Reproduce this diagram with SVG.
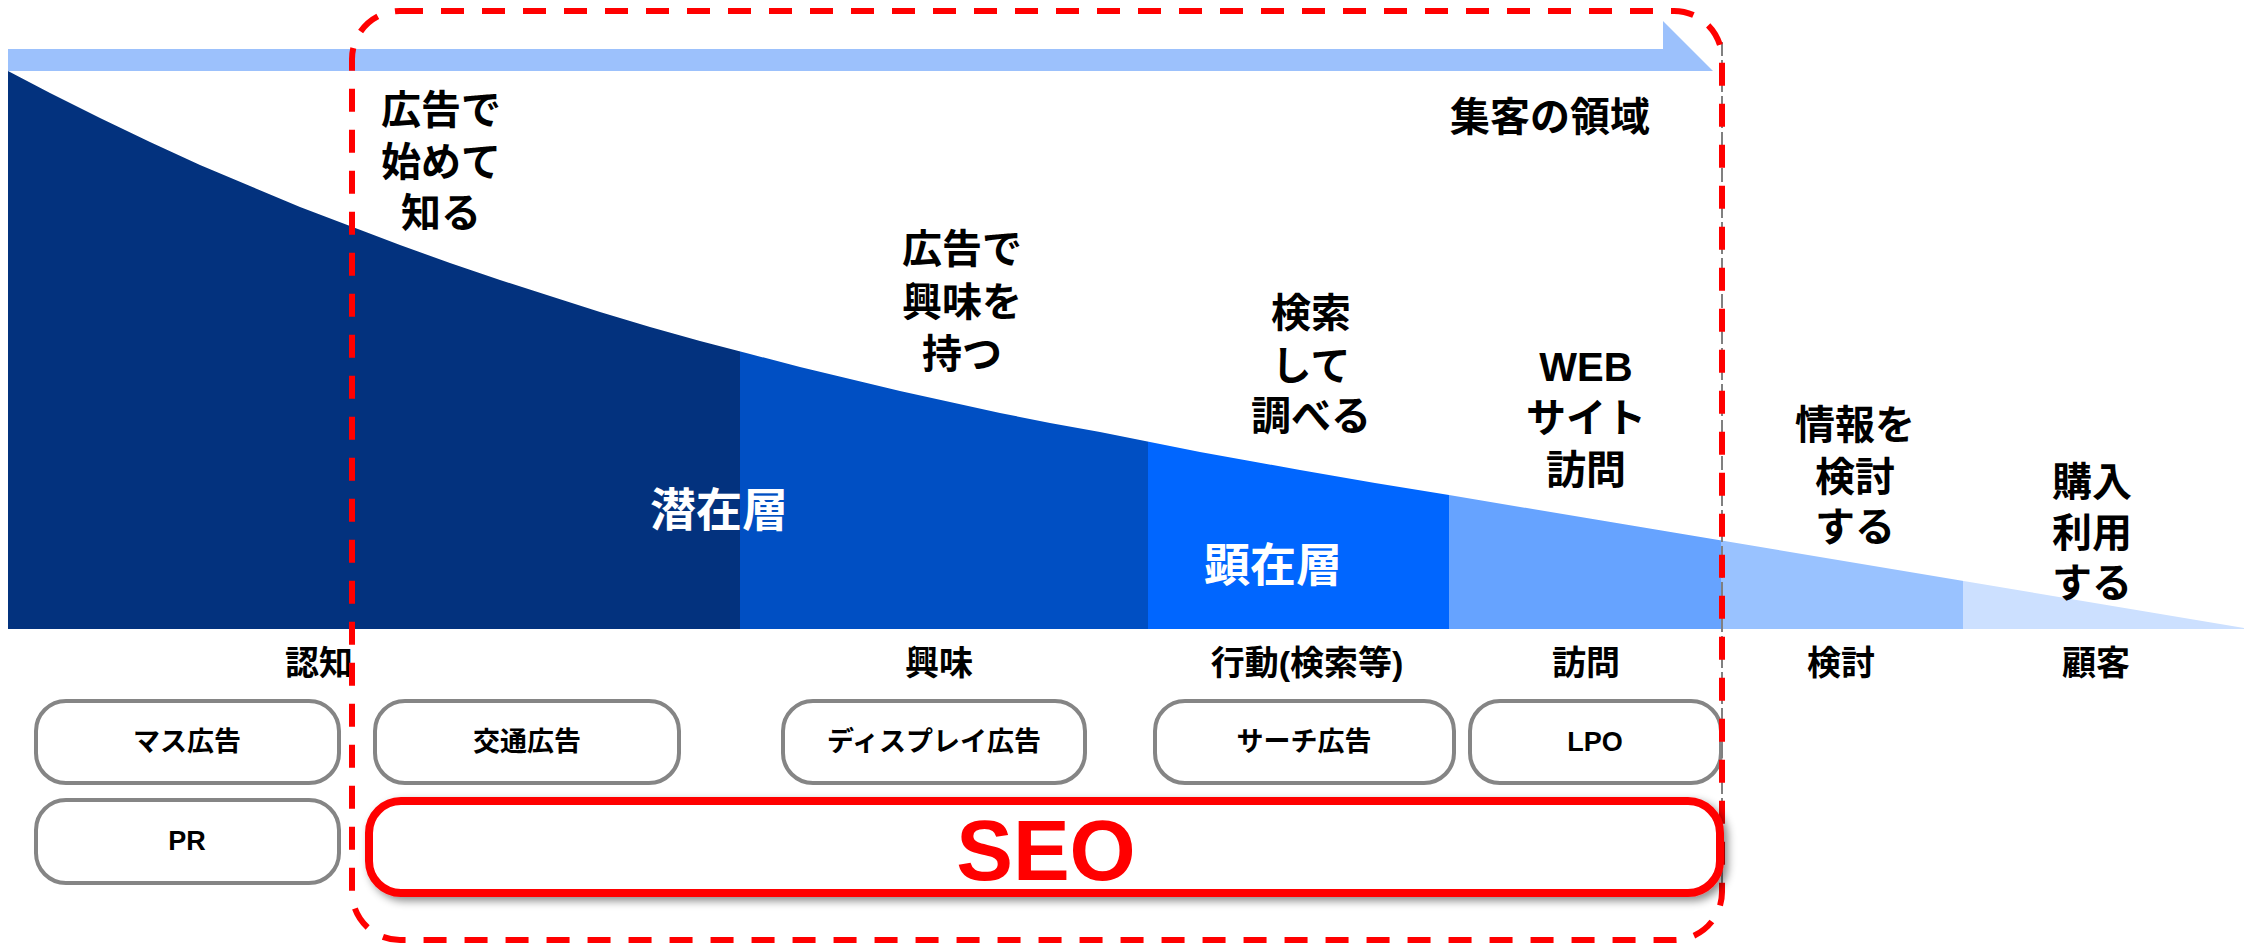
<svg xmlns="http://www.w3.org/2000/svg" width="2259" height="945" viewBox="0 0 2259 945">
<defs>
<style>
.t{font-family:"Liberation Sans","Noto Sans CJK JP",sans-serif;font-weight:bold;fill:#000;text-anchor:middle;dominant-baseline:central}
.big{font-size:40px}
.lab{font-size:34px}
.box text{font-size:27px}
.w{fill:#fff;font-size:46px}
.box rect{fill:#fff;stroke:#858585;stroke-width:4}
</style>
<clipPath id="funnel">
<polygon points="8,629 8,71 50,93 100,118 150,142 200,165 250,186 300,207 350,226 400,245 450,263 500,280 550,296 600,312 650,327 700,341 750,354 800,367 850,379 900,391 950,402 1000,413 1050,423 1100,432 1150,442 1200,452 1250,461 1300,470 1375,483 1449,495 2244,628 2244,629"/>
</clipPath>
<filter id="sh" x="-5%" y="-30%" width="110%" height="160%">
<feDropShadow dx="4" dy="4" stdDeviation="4" flood-color="#000" flood-opacity="0.45"/>
</filter>
</defs>
<rect width="2259" height="945" fill="#fff"/>
<g id="funnel-shape" clip-path="url(#funnel)">
<rect x="8" y="60" width="732" height="570" fill="#03327e"/>
<rect x="740" y="60" width="408" height="570" fill="#004fc3"/>
<rect x="1148" y="60" width="301" height="570" fill="#0066ff"/>
<rect x="1449" y="60" width="272" height="570" fill="#66a3ff"/>
<rect x="1721" y="60" width="242" height="570" fill="#99c2ff"/>
<rect x="1963" y="60" width="290" height="570" fill="#cce0ff"/>
</g>
<g id="arrow">
<polygon points="8,49 1663,49 1663,21 1713,71 8,71" fill="#9cc1fc"/>
</g>
<g id="layer-labels">
<text class="t w" x="719" y="510">潜在層</text>
<text class="t w" x="1273" y="565">顕在層</text>
</g>
<g id="stage-texts">
<text class="t big" x="1550" y="117">集客の領域</text>
<text class="t big" x="441" y="110">広告で</text>
<text class="t big" x="441" y="162">始めて</text>
<text class="t big" x="441" y="213">知る</text>
<text class="t big" x="962" y="249">広告で</text>
<text class="t big" x="962" y="302">興味を</text>
<text class="t big" x="962" y="354">持つ</text>
<text class="t big" x="1311" y="313">検索</text>
<text class="t big" x="1311" y="366">して</text>
<text class="t big" x="1311" y="416">調べる</text>
<text class="t big" x="1586" y="367">WEB</text>
<text class="t big" x="1586" y="418">サイト</text>
<text class="t big" x="1586" y="470">訪問</text>
<text class="t big" x="1855" y="425">情報を</text>
<text class="t big" x="1855" y="477">検討</text>
<text class="t big" x="1855" y="527">する</text>
<text class="t big" x="2092" y="482">購入</text>
<text class="t big" x="2092" y="533">利用</text>
<text class="t big" x="2092" y="583">する</text>
</g>
<g id="phase-labels">
<text class="t lab" x="319" y="663">認知</text>
<text class="t lab" x="939" y="663">興味</text>
<text class="t lab" x="1307" y="663">行動(検索等)</text>
<text class="t lab" x="1586" y="663">訪問</text>
<text class="t lab" x="1841" y="663">検討</text>
<text class="t lab" x="2096" y="663">顧客</text>
</g>
<g id="box-mass" class="box"><rect x="36" y="701" width="303" height="82" rx="30"/><text class="t" x="187" y="742">マス広告</text></g>
<g id="box-pr" class="box"><rect x="36" y="800" width="303" height="83" rx="30"/><text class="t" x="187" y="841">PR</text></g>
<g id="box-transit" class="box"><rect x="375" y="701" width="304" height="82" rx="30"/><text class="t" x="527" y="742">交通広告</text></g>
<g id="box-display" class="box"><rect x="783" y="701" width="302" height="82" rx="30"/><text class="t" x="934" y="742">ディスプレイ広告</text></g>
<g id="box-search" class="box"><rect x="1155" y="701" width="299" height="82" rx="30"/><text class="t" x="1304" y="742">サーチ広告</text></g>
<g id="box-lpo" class="box"><rect x="1470" y="701" width="251" height="82" rx="30"/><text class="t" x="1595" y="742">LPO</text></g>
<g id="connectors">
<line x1="1722" y1="42" x2="1722" y2="905" stroke="#808080" stroke-width="2" stroke-dasharray="14 4"/>
<rect x="352" y="11" width="1370" height="929" rx="48" ry="48" fill="none" stroke="#ff0000" stroke-width="6" stroke-dasharray="23 18"/>
</g>
<g id="box-seo">
<rect x="369" y="801" width="1351" height="92" rx="32" fill="#fff" stroke="#ff0000" stroke-width="8" filter="url(#sh)"/>
<text class="t" x="1046" y="850" style="font-size:85px;fill:#ff0000">SEO</text>
</g>
</svg>
